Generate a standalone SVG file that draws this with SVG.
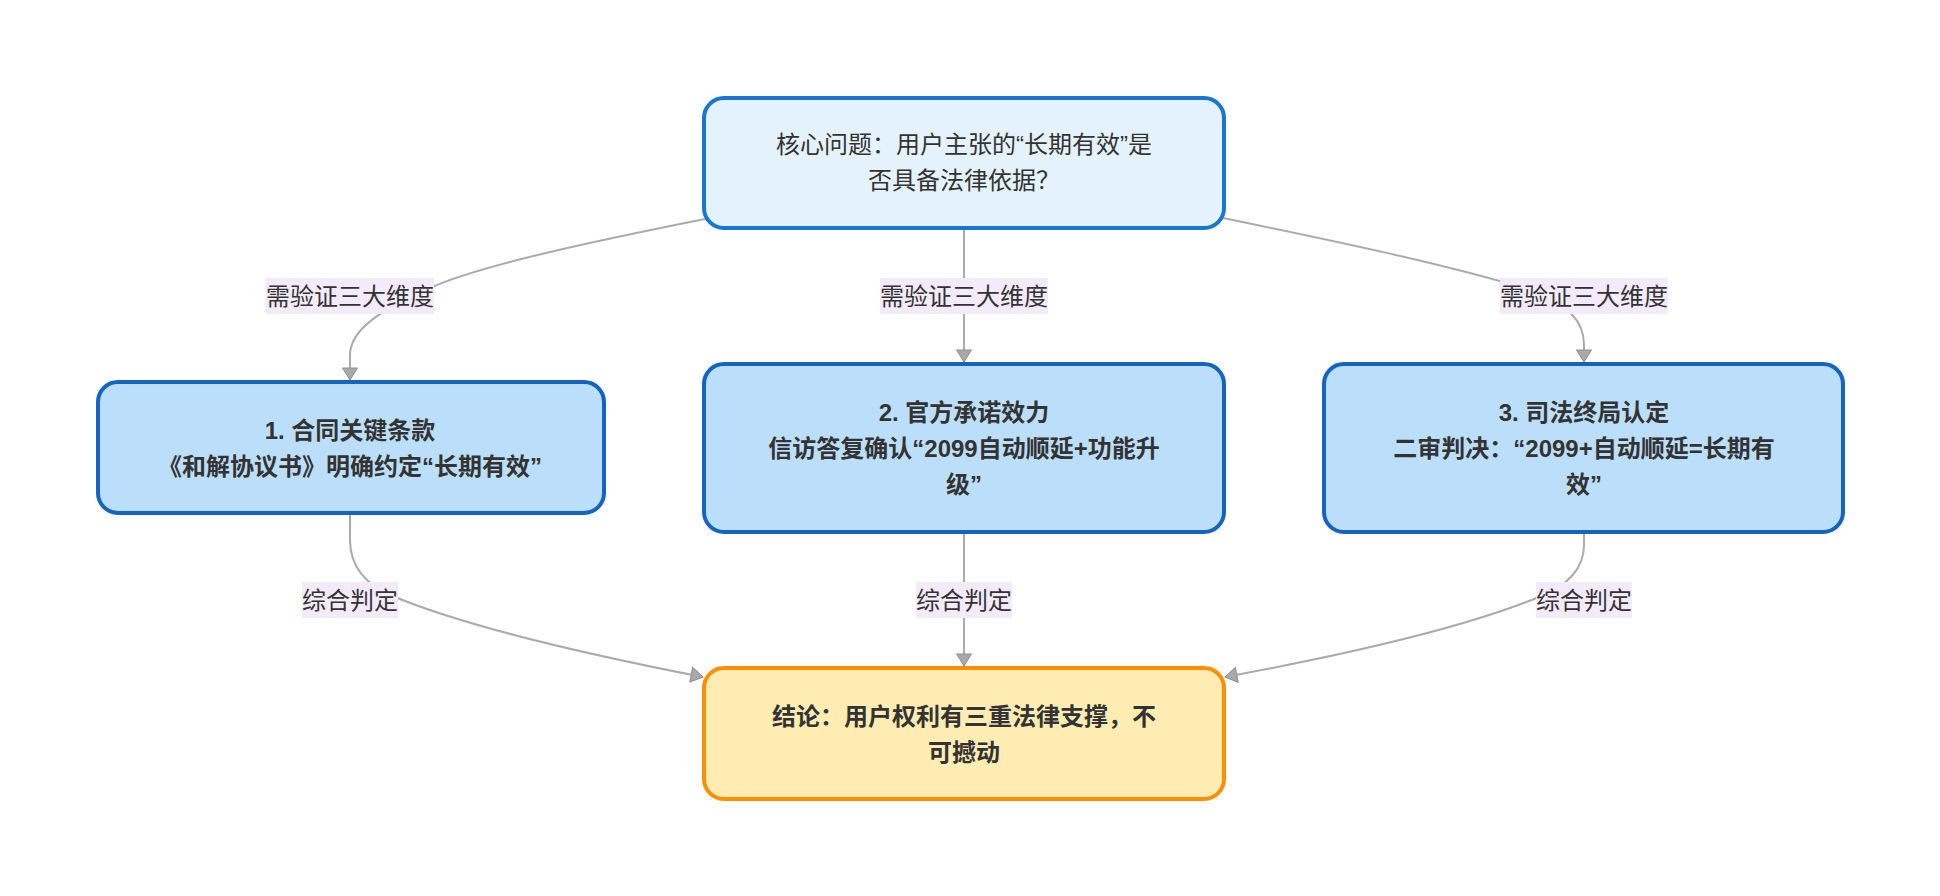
<svg xmlns="http://www.w3.org/2000/svg" width="1940" height="896" viewBox="0 0 1940 896">
<defs>
<style>
.edge{fill:none;stroke:#ababab;stroke-width:2}
.lblbg{fill:#f3ebfd}
.lbl{font-family:"Liberation Sans","Noto Sans CJK SC",sans-serif;font-size:24px;fill:#333;text-anchor:middle;dominant-baseline:central}
.ntxt{font-family:"Liberation Sans","Noto Sans CJK SC",sans-serif;font-size:24px;fill:#333;text-anchor:middle;dominant-baseline:central}
.bold{font-weight:bold}
.top{fill:#e3f2fd;stroke:#1976d2;stroke-width:4}
.mid{fill:#bbdefb;stroke:#1565c0;stroke-width:4}
.end{fill:#ffecb3;stroke:#ff8f00;stroke-width:4}
</style>
<marker id="arr" viewBox="0 0 12 15" refX="12" refY="7.5" markerUnits="userSpaceOnUse" markerWidth="12" markerHeight="15" orient="auto" overflow="visible">
<path d="M0,0 L12,7.5 L0,15 z" fill="#a9a9a9" stroke="#8f8f8f" stroke-width="1"/>
</marker>
</defs>
<rect width="1940" height="896" fill="#ffffff"/>
<g id="connectors">
<path class="edge" marker-end="url(#arr)" d="M705,219 C600,240 480,265 430,288 C380,310 350,330 350,355 L350,380"/>
<path class="edge" marker-end="url(#arr)" d="M964,228 L964,362"/>
<path class="edge" marker-end="url(#arr)" d="M1223,218 C1330,240 1450,265 1530,290 C1570,305 1584,322 1584,345 L1584,362"/>
<path class="edge" marker-end="url(#arr)" d="M350,513 L350,540 C350,565 365,585 395,597 C470,628 590,655 703,677"/>
<path class="edge" marker-end="url(#arr)" d="M964,532 L964,666"/>
<path class="edge" marker-end="url(#arr)" d="M1584,532 L1584,545 C1584,568 1569,585 1539,597 C1464,628 1344,655 1225,677"/>
<g id="label-e1"><rect class="lblbg" x="266" y="278" width="168" height="36"/><text class="lbl" x="350" y="296">需验证三大维度</text></g>
<g id="label-e2"><rect class="lblbg" x="880" y="278" width="168" height="36"/><text class="lbl" x="964" y="296">需验证三大维度</text></g>
<g id="label-e3"><rect class="lblbg" x="1500" y="278" width="168" height="36"/><text class="lbl" x="1584" y="296">需验证三大维度</text></g>
<g id="label-e4"><rect class="lblbg" x="302" y="582" width="96" height="36"/><text class="lbl" x="350" y="600">综合判定</text></g>
<g id="label-e5"><rect class="lblbg" x="916" y="582" width="96" height="36"/><text class="lbl" x="964" y="600">综合判定</text></g>
<g id="label-e6"><rect class="lblbg" x="1536" y="582" width="96" height="36"/><text class="lbl" x="1584" y="600">综合判定</text></g>
</g>
<g id="node-core">
<rect class="top" x="704" y="98" width="520" height="130" rx="20" ry="20"/>
<text class="ntxt" x="964" y="144">核心问题：用户主张的“长期有效”是</text>
<text class="ntxt" x="964" y="180">否具备法律依据？</text>
</g>
<g id="node-contract">
<rect class="mid" x="98" y="382" width="506" height="131" rx="20" ry="20"/>
<text class="ntxt bold" x="350" y="430">1. 合同关键条款</text>
<text class="ntxt bold" x="350" y="466">《和解协议书》明确约定“长期有效”</text>
</g>
<g id="node-official">
<rect class="mid" x="704" y="364" width="520" height="168" rx="20" ry="20"/>
<text class="ntxt bold" x="964" y="412">2. 官方承诺效力</text>
<text class="ntxt bold" x="964" y="448">信访答复确认“2099自动顺延+功能升</text>
<text class="ntxt bold" x="964" y="484">级”</text>
</g>
<g id="node-judicial">
<rect class="mid" x="1324" y="364" width="519" height="168" rx="20" ry="20"/>
<text class="ntxt bold" x="1584" y="412">3. 司法终局认定</text>
<text class="ntxt bold" x="1584" y="448">二审判决：“2099+自动顺延=长期有</text>
<text class="ntxt bold" x="1584" y="484">效”</text>
</g>
<g id="node-conclusion">
<rect class="end" x="704" y="668" width="520" height="131" rx="20" ry="20"/>
<text class="ntxt bold" x="964" y="716">结论：用户权利有三重法律支撑，不</text>
<text class="ntxt bold" x="964" y="752">可撼动</text>
</g>
</svg>
